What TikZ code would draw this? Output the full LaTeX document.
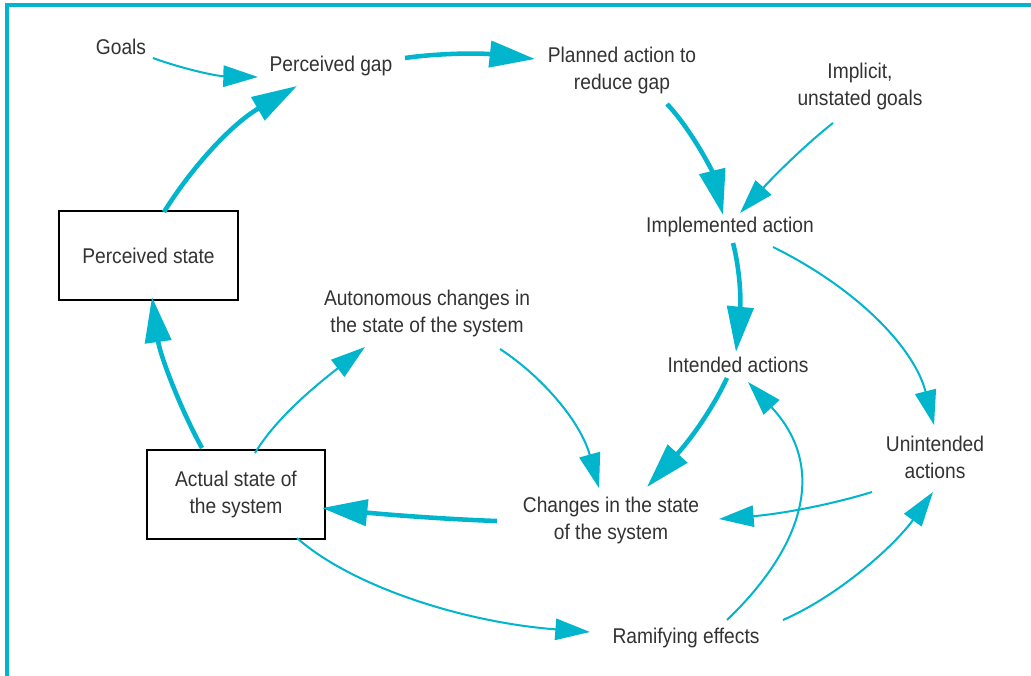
\documentclass[tikz,border=0pt]{standalone}
\usepackage{fontspec}
\setmainfont{Liberation Sans}[FakeStretch=0.9]
\usetikzlibrary{arrows.meta}
\definecolor{teal1}{HTML}{00B5CC}
\definecolor{txt}{HTML}{333333}
\begin{document}
\begin{tikzpicture}[x=0.75pt,y=-0.75pt,
  lbl/.style={font=\fontsize{16}{20.25}\selectfont, text=txt, align=center, inner sep=0pt},
  box/.style={lbl, draw=black, line width=1.5pt, minimum width=134pt, minimum height=67pt},
  thickarr/.style={draw=teal1, line width=3.4pt, -{Triangle[length=34pt, width=19.5pt]}},
  thinarr/.style={draw=teal1, line width=1.5pt, -{Triangle[length=26pt, width=16pt]}}]
\useasboundingbox (0,0) rectangle (1031,675);
\fill[white] (0,0) rectangle (1031,675);
\draw[teal1, line width=2.4pt] (7,680) -- (7,5) -- (1035,5);

\node[lbl] (goals) at (121,47) {Goals};
\node[lbl] (gap) at (331,66) {Perceived gap};
\node[lbl] (plan) at (622,70) {Planned action to\\reduce gap};
\node[lbl] (implicit) at (860,86) {Implicit,\\unstated goals};
\node[lbl] (impl) at (730,227) {Implemented action};
\node[box] (pstate) at (148.5,255.5) {Perceived state};
\node[lbl] (auto) at (427,313) {Autonomous changes in\\the state of the system};
\node[lbl] (intended) at (738,365) {Intended actions};
\node[lbl] (unint) at (935,457) {Unintended\\actions};
\node[box] (astate) at (236,494.5) {Actual state of\\the system};
\node[lbl] (changes) at (611,520) {Changes in the state\\of the system};
\node[lbl] (ramify) at (686,638) {Ramifying effects};

% thick loop
\draw[thickarr] ([shift={(74,-8)}]gap.center) .. controls (440,53) and (480,53) .. ([shift={(-87,-11)}]plan.center);
\draw[thickarr] ([shift={(45,34)}]plan.center) .. controls (690,128) and (712,170) .. ([shift={(-7,-12)}]impl.center);
\draw[thickarr] ([shift={(3,16)}]impl.center) .. controls (740,270) and (741,300) .. ([shift={(-2,-13)}]intended.center);
\draw[thickarr] ([shift={(-11,13)}]intended.center) .. controls (712,410) and (690,440) .. ([shift={(36,-33)}]changes.center);
\draw[thickarr] ([shift={(-114,1)}]changes.center) .. controls (440,519) and (380,514) .. ([shift={(86,13.5)}]astate.center);
\draw[thickarr] ([shift={(-34,-46.5)}]astate.center) .. controls (180,408) and (160,355) .. ([shift={(3.5,41.5)}]pstate.center);
\draw[thickarr] ([shift={(15.5,-43.5)}]pstate.center) .. controls (190,170) and (230,125) .. ([shift={(-34,20)}]gap.center);

% thin connectors
\draw[thinarr] ([shift={(32,11)}]goals.center) .. controls (180,68) and (215,76) .. ([shift={(-73,11)}]gap.center);
\draw[thinarr] ([shift={(-27,37)}]implicit.center) .. controls (805,145) and (775,175) .. ([shift={(10,-14)}]impl.center);
\draw[thinarr] ([shift={(43,20)}]impl.center) .. controls (860,290) and (915,350) .. ([shift={(-1,-32)}]unint.center);
\draw[thinarr] ([shift={(73,36)}]auto.center) .. controls (540,375) and (580,420) .. ([shift={(-12,-32)}]changes.center);
\draw[thinarr] ([shift={(19,-41.5)}]astate.center) .. controls (275,420) and (310,390) .. ([shift={(-62,34)}]auto.center);
\draw[thinarr] ([shift={(-63,35)}]unint.center) .. controls (830,505) and (780,514) .. ([shift={(108,-1)}]changes.center);
\draw[thinarr] ([shift={(61,43.5)}]astate.center) .. controls (350,585) and (460,622) .. ([shift={(-96,-6)}]ramify.center);
\draw[thinarr] ([shift={(41,-18)}]ramify.center) .. controls (800,550) and (830,470) .. ([shift={(10,17)}]intended.center);
\draw[thinarr] ([shift={(97,-18)}]ramify.center) .. controls (840,595) and (895,545) .. ([shift={(-2,35)}]unint.center);
\end{tikzpicture}
\end{document}
